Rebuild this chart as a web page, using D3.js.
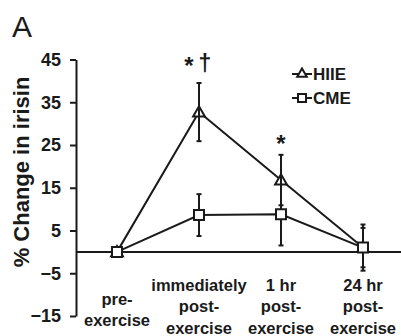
<!DOCTYPE html>
<html>
<head>
<meta charset="utf-8">
<script src="https://cdn.jsdelivr.net/npm/d3@7"></script>
<style>
  body { margin: 0; background: #fff; }
  svg { display: block; font-family: "Liberation Sans", Arial, sans-serif; }
</style>
</head>
<body>
<svg width="401" height="336"></svg>
<script>
// data
var categories = ["pre", "imm", "1hr", "24hr"];
var catLabels = [["pre-", "exercise"], ["immediately", "post-", "exercise"], ["1 hr", "post-", "exercise"], ["24 hr", "post-", "exercise"]];
var hiie = [0, 32.7, 16.8, 1.0];
var hiieErr = [0, 6.8, 5.9, 5.4];
var cme = [0, 8.6, 8.8, 1.0];
var cmeErr = [0, 4.9, 7.3, 4.6];
var yTicks = [-15, -5, 5, 15, 25, 35, 45];
var marks = [[], ["*", "\u2020"], ["*"], []];

var svg = d3.select("svg"),
  margin = { top: 59.5, left: 76 },
  width = 328,
  height = 256.5;

var ink = "#1a1a1a";

var x = d3.scalePoint().domain(categories).range([0, width]).padding(0.5);
var y = d3.scaleLinear().domain([-15, 45]).range([height, 0]);

var g = svg.append("g").attr("transform", "translate(" + margin.left + "," + margin.top + ")");

// panel letter
svg.append("text")
  .attr("x", 12)
  .attr("y", 37)
  .attr("font-size", "30px")
  .attr("fill", ink)
  .text("A");

// y axis
var yAxis = g.append("g")
  .call(d3.axisLeft(y).tickValues(yTicks).tickSize(6).tickPadding(9).tickSizeOuter(0));
yAxis.select(".domain").attr("stroke", ink).attr("stroke-width", 2);
yAxis.selectAll(".tick line").attr("stroke", ink).attr("stroke-width", 2);
yAxis.selectAll(".tick text")
  .attr("font-size", "18px")
  .attr("font-weight", "bold")
  .attr("font-family", "Liberation Sans, Arial, sans-serif")
  .attr("fill", ink);

// y label
svg.append("text")
  .attr("transform", "translate(29," + 172 + ") rotate(-90)")
  .attr("text-anchor", "middle")
  .attr("font-size", "22px")
  .attr("font-weight", "bold")
  .attr("fill", ink)
  .text("% Change in irisin");

// zero line
g.append("line")
  .attr("x1", 0)
  .attr("x2", width)
  .attr("y1", y(0))
  .attr("y2", y(0))
  .attr("stroke", ink)
  .attr("stroke-width", 2);

// x labels
catLabels.forEach(function (lines, i) {
  var t = g.append("text")
    .attr("text-anchor", "middle")
    .attr("font-size", "16.5px")
    .attr("font-weight", "bold")
    .attr("fill", ink);
  var base = lines.length == 2 ? 245 : 231.5;
  lines.forEach(function (s, j) {
    t.append("tspan")
      .attr("x", x(categories[i]))
      .attr("y", base + j * 21.3)
      .text(s);
  });
});

var line = d3.line()
  .x(function (d, i) { return x(categories[i]); })
  .y(function (d) { return y(d); });

function errorBars(vals, errs) {
  var eb = g.append("g");
  vals.forEach(function (v, i) {
    if (!errs[i]) return;
    var cx = x(categories[i]);
    eb.append("line")
      .attr("x1", cx).attr("x2", cx)
      .attr("y1", y(v + errs[i])).attr("y2", y(v - errs[i]))
      .attr("stroke", ink).attr("stroke-width", 2);
    [v + errs[i], v - errs[i]].forEach(function (e) {
      eb.append("line")
        .attr("x1", cx - 2.5).attr("x2", cx + 2.5)
        .attr("y1", y(e)).attr("y2", y(e))
        .attr("stroke", ink).attr("stroke-width", 2);
    });
  });
}

// lines
g.append("path").datum(cme).attr("d", line)
  .attr("fill", "none").attr("stroke", ink).attr("stroke-width", 2);
g.append("path").datum(hiie).attr("d", line)
  .attr("fill", "none").attr("stroke", ink).attr("stroke-width", 2);

errorBars(cme, cmeErr);

var tri = d3.symbol().type(d3.symbolTriangle).size(60);
var sq = d3.symbol().type(d3.symbolSquare).size(100);

// HIIE markers
g.selectAll(".tri")
  .data(hiie)
  .enter()
  .append("path")
  .attr("class", "tri")
  .attr("d", tri)
  .attr("transform", function (d, i) { return "translate(" + x(categories[i]) + "," + (y(d) + 1) + ")"; })
  .attr("fill", "#fff")
  .attr("stroke", ink)
  .attr("stroke-width", 2);

errorBars(hiie, hiieErr);

// CME markers
g.selectAll(".sq")
  .data(cme)
  .enter()
  .append("path")
  .attr("class", "sq")
  .attr("d", sq)
  .attr("transform", function (d, i) { return "translate(" + x(categories[i]) + "," + y(d) + ")"; })
  .attr("fill", "#fff")
  .attr("stroke", ink)
  .attr("stroke-width", 2);

// significance marks
marks.forEach(function (m, i) {
  var top = y(hiie[i] + hiieErr[i]);
  if (m.length == 2) {
    g.append("text")
      .attr("x", x(categories[i]) - 10)
      .attr("y", top - 9)
      .attr("text-anchor", "middle")
      .attr("font-size", "24px")
      .attr("font-weight", "bold")
      .attr("fill", ink)
      .text(m[0]);
    g.append("text")
      .attr("x", x(categories[i]) + 6)
      .attr("y", top - 12)
      .attr("text-anchor", "middle")
      .attr("font-size", "23px")
      .attr("font-weight", "bold")
      .attr("fill", ink)
      .text(m[1]);
  } else if (m.length == 1) {
    g.append("text")
      .attr("x", x(categories[i]))
      .attr("y", top - 3)
      .attr("text-anchor", "middle")
      .attr("font-size", "24px")
      .attr("font-weight", "bold")
      .attr("fill", ink)
      .text(m[0]);
  }
});

// legend
var legend = [{ name: "HIIE", sym: tri, size: 40 }, { name: "CME", sym: sq, size: 64 }];
legend.forEach(function (d, i) {
  var ly = 74 + i * 24;
  svg.append("line")
    .attr("x1", 292).attr("x2", 312)
    .attr("y1", ly).attr("y2", ly)
    .attr("stroke", ink).attr("stroke-width", 2);
  svg.append("path")
    .attr("d", d3.symbol().type(i == 0 ? d3.symbolTriangle : d3.symbolSquare).size(d.size))
    .attr("transform", "translate(302," + ly + ")")
    .attr("fill", "#fff")
    .attr("stroke", ink)
    .attr("stroke-width", 2);
  svg.append("text")
    .attr("x", 313)
    .attr("y", ly + 6)
    .attr("font-size", "17px")
    .attr("font-weight", "bold")
    .attr("fill", ink)
    .text(d.name);
});
</script>
</body>
</html>
